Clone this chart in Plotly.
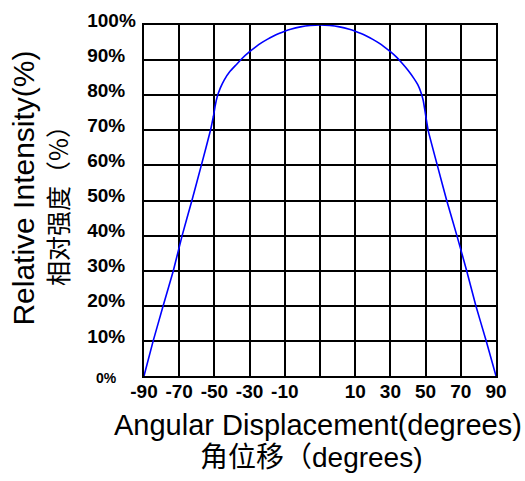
import plotly.graph_objects as go

# Data
angle = [-90, -85.3, -80.2, -75, -70.5, -65.5, -60.7, -56, -54.5, -53.6, -52.6, -51,
         -49, -46, -43, -40, -36, -33, -30, -27, -24, -21, -18, -15, -10, -5,
         0, 5, 10, 15, 18, 21, 24, 27, 30, 33, 36, 39, 42, 45, 48, 50,
         51.5, 52.8, 53.6, 54.4, 55.3, 60, 64.8, 70, 75, 79.7, 85, 90]
intensity = [0, 10, 20, 30, 40, 50, 60, 70, 74, 77, 79.5, 82,
             84.3, 86.8, 88.6, 90.4, 92.4, 93.7, 94.9, 95.9, 96.8, 97.6, 98.25, 98.8, 99.47, 99.87,
             100, 99.87, 99.47, 98.8, 98.25, 97.6, 96.8, 95.9, 94.9, 93.7, 92.4, 90.9, 89.1, 87.1, 84.8, 83,
             81, 78.5, 75.8, 73, 70, 60, 50, 40, 30, 20, 10, 0]

x_tickvals = [-90, -72, -54, -36, -18, 0, 18, 36, 54, 72, 90]
x_ticktext = ["-90", "-70", "-50", "-30", "-10", "", "10", "30", "50", "70", "90"]
y_tickvals = [10, 20, 30, 40, 50, 60, 70, 80, 90, 100]
y_ticktext = ["10%", "20%", "30%", "40%", "50%", "60%", "70%", "80%", "90%", "100%"]
zero_label = "0%"

x_title = "Angular Displacement(degrees)"
x_title_cn = "角位移（degrees)"
y_title = "Relative Intensity(%)"
y_title_cn = "相对强度（%）"

fig = go.Figure()
fig.add_trace(go.Scatter(
    x=angle, y=intensity, mode="lines",
    line=dict(color="#0000FF", width=1.6, shape="spline", smoothing=0.3),
    showlegend=False, hoverinfo="skip",
))

tick_font = dict(family="Liberation Sans", size=19, color="black", weight="bold")

fig.update_layout(
    width=525, height=481,
    margin=dict(l=143.5, r=29.3, t=10, b=105),
    paper_bgcolor="white", plot_bgcolor="white",
    xaxis=dict(
        range=[-90, 90], tickmode="array", tickvals=x_tickvals, ticktext=x_ticktext,
        showgrid=True, gridcolor="black", gridwidth=2,
        showline=True, linecolor="black", linewidth=2, mirror=True,
        zeroline=False, ticks="", tickfont=tick_font, ticklabelstandoff=-3,
    ),
    yaxis=dict(
        range=[0, 100], tickmode="array", tickvals=y_tickvals, ticktext=y_ticktext,
        showgrid=True, gridcolor="black", gridwidth=2,
        showline=True, linecolor="black", linewidth=2, mirror=True,
        zeroline=False, ticks="", tickfont=tick_font,
        ticklabelposition="inside", ticklabelstandoff=-56, ticklabelshift=-5,
        ticklabeloverflow="allow",
    ),
    annotations=[
        dict(text=zero_label, xref="paper", yref="y", x=0, y=0, xanchor="right",
             yanchor="middle", xshift=-25, yshift=-2, showarrow=False,
             font=dict(family="Liberation Sans", size=14, color="black", weight="bold")),
        dict(text=x_title, xref="paper", yref="paper", x=0.4955, y=-0.1393,
             xanchor="center", yanchor="middle", showarrow=False,
             font=dict(family="Liberation Sans", size=29, color="black")),
        dict(text=x_title_cn, xref="paper", yref="paper", x=0.477, y=-0.2336,
             xanchor="center", yanchor="middle", showarrow=False,
             font=dict(family="Liberation Sans, Noto Sans CJK SC", size=28, color="black")),
        dict(text=y_title, xref="paper", yref="paper", x=-0.345, y=0.5355,
             xanchor="center", yanchor="middle", textangle=-90, showarrow=False,
             font=dict(family="Liberation Sans", size=30, color="black")),
        dict(text=y_title_cn, xref="paper", yref="paper", x=-0.2456, y=0.503,
             xanchor="center", yanchor="middle", textangle=-90, showarrow=False,
             font=dict(family="Noto Sans CJK SC", size=25, color="black")),
    ],
)

fig.write_html("out.html", config={"displayModeBar": False},
               post_script="document.body.style.margin='0';")
